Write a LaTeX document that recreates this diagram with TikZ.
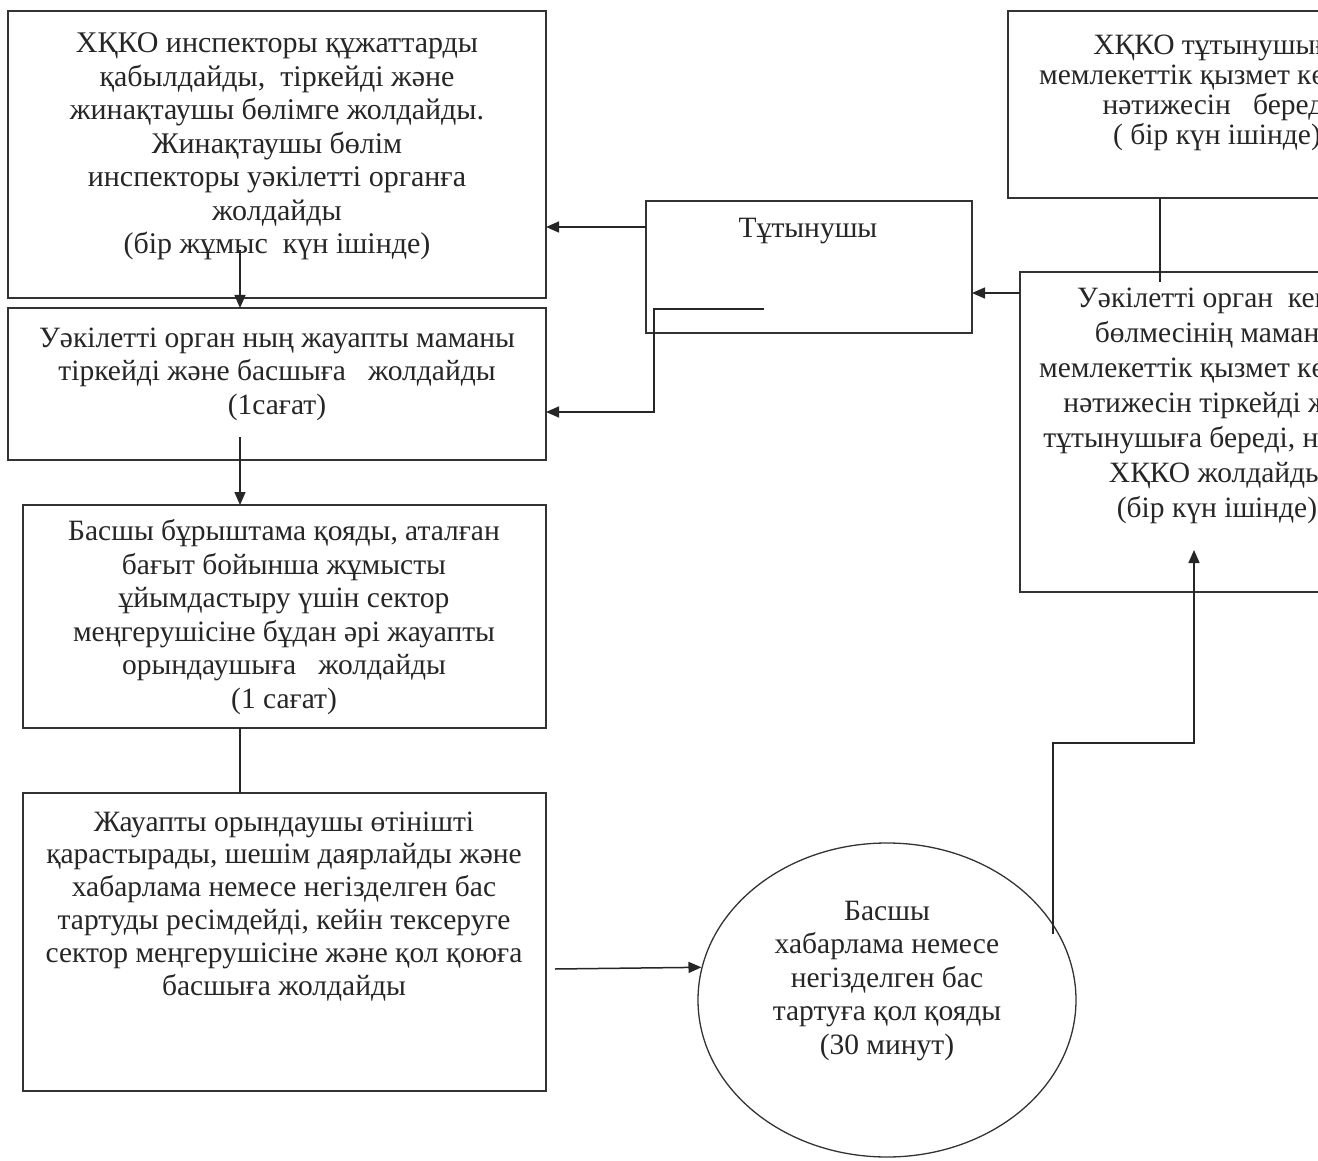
\documentclass[tikz,border=0pt]{standalone}
\usepackage{fontspec}
\setmainfont{Liberation Serif}
\usetikzlibrary{arrows.meta,shapes.geometric}
\begin{document}
\begin{tikzpicture}[x=1pt,y=-1pt,
  frame/.style={draw=black!80,line width=1.5pt,inner sep=0pt,outer sep=0pt,anchor=north west},
  % text blocks are placed by the baseline of their last line
  txt/.style={align=center,inner sep=0pt,anchor=base,text=black!85,font=\fontsize{29.5}{33.5}\selectfont},
  link/.style={draw=black!85,line width=1.5pt},
  arr/.style={link,-{Triangle[length=13pt,width=11pt]}}]
% page
\fill[white] (0,0) rectangle (1318,1161);
\clip (0,0) rectangle (1318,1161);

% left column
\node[frame,minimum width=538pt,minimum height=287pt] (boxA) at (8,11) {};
\node[txt,font=\fontsize{30}{33.5}\selectfont] (tA) at (277,254) {ХҚКО инспекторы құжаттарды\\қабылдайды,~ тіркейді және\\жинақтаушы бөлімге жолдайды.\\Жинақтаушы бөлім\\инспекторы уәкілетті органға\\жолдайды\\(бір жұмыс~ күн ішінде)};

\node[frame,minimum width=538pt,minimum height=152pt] (boxB) at (8,308) {};
\node[txt] (tB) at (277,414) {Уәкілетті орган ның жауапты маманы\\тіркейді және басшыға~~ жолдайды\\(1сағат)};

\node[frame,minimum width=523pt,minimum height=223pt] (boxC) at (23,505) {};
\node[txt] (tC) at (284,708) {Басшы бұрыштама қояды, аталған\\бағыт бойынша жұмысты\\ұйымдастыру үшін сектор\\меңгерушісіне бұдан әрі жауапты\\орындаушыға~~ жолдайды\\(1 сағат)};

\node[frame,minimum width=523pt,minimum height=298pt] (boxD) at (23,793) {};
\node[txt,font=\fontsize{29.5}{32.8}\selectfont] (tD) at (284,995) {Жауапты орындаушы өтінішті\\қарастырады, шешім даярлайды және\\хабарлама немесе негізделген бас\\тартуды ресімдейді, кейін тексеруге\\сектор меңгерушісіне және қол қоюға\\басшыға жолдайды};

% middle
\node[frame,minimum width=326pt,minimum height=132pt] (tut) at (646,201) {};
\node[txt] (tT) at (808,238) {Тұтынушы};

\node[draw=black!80,line width=1.3pt,ellipse,minimum width=378pt,minimum height=314pt,inner sep=0pt] (circ) at (887,1000) {};
\node[txt] (tE) at (887,1054) {Басшы\\хабарлама немесе\\негізделген бас\\тартуға қол қояды\\(30 минут)};

% right column (runs past the page edge)
\node[frame,minimum width=500pt,minimum height=187pt] (boxTR) at (1008,11) {};
\node[txt,font=\fontsize{29.5}{30}\selectfont] (tTR) at (1217,145) {ХҚКО тұтынушыға\\мемлекеттік қызмет көрсету\\нәтижесін~~ береді\\( бір күн ішінде)};

\node[frame,minimum width=500pt,minimum height=320pt] (boxLR) at (1020,272) {};
\node[txt,font=\fontsize{29.5}{35}\selectfont] (tLR) at (1217,517) {Уәкілетті орган~ кеңсе\\бөлмесінің маманы\\мемлекеттік қызмет көрсету\\нәтижесін тіркейді және\\тұтынушыға береді, немесе\\ХҚКО жолдайды\\(бір күн ішінде)};

% connector points
\coordinate (abStart) at (240,250);
\coordinate (bcStart) at (240,437);
\coordinate (tutIn) at (764,309);
\coordinate (tutBend) at (654,412);
\coordinate (tutOut) at (646,227);
\coordinate (lrOut) at (1020,293);
\coordinate (trDrop) at (1160,282);
\coordinate (dOut) at (555,969);
\coordinate (eBend) at (1053,743);
\coordinate (lrTip) at (1194,550);

% connectors
\draw[arr] (abStart) -- (abStart |- boxB.north);
\draw[arr] (bcStart) -- (bcStart |- boxC.north);
\draw[link] (abStart |- boxC.south) -- (abStart |- boxD.north);
\draw[arr] (tutOut) -- (tutOut -| boxA.east);
\draw[arr] (tutIn) -| (tutBend) -- (tutBend -| boxB.east);
\draw[arr] (lrOut) -- (lrOut -| tut.east);
\draw[link] (trDrop |- boxTR.south) -- (trDrop);
\draw[arr] (dOut) -- (circ.170);
\draw[arr] (eBend |- circ.21) -- (eBend) -| (lrTip);
\end{tikzpicture}
\end{document}
